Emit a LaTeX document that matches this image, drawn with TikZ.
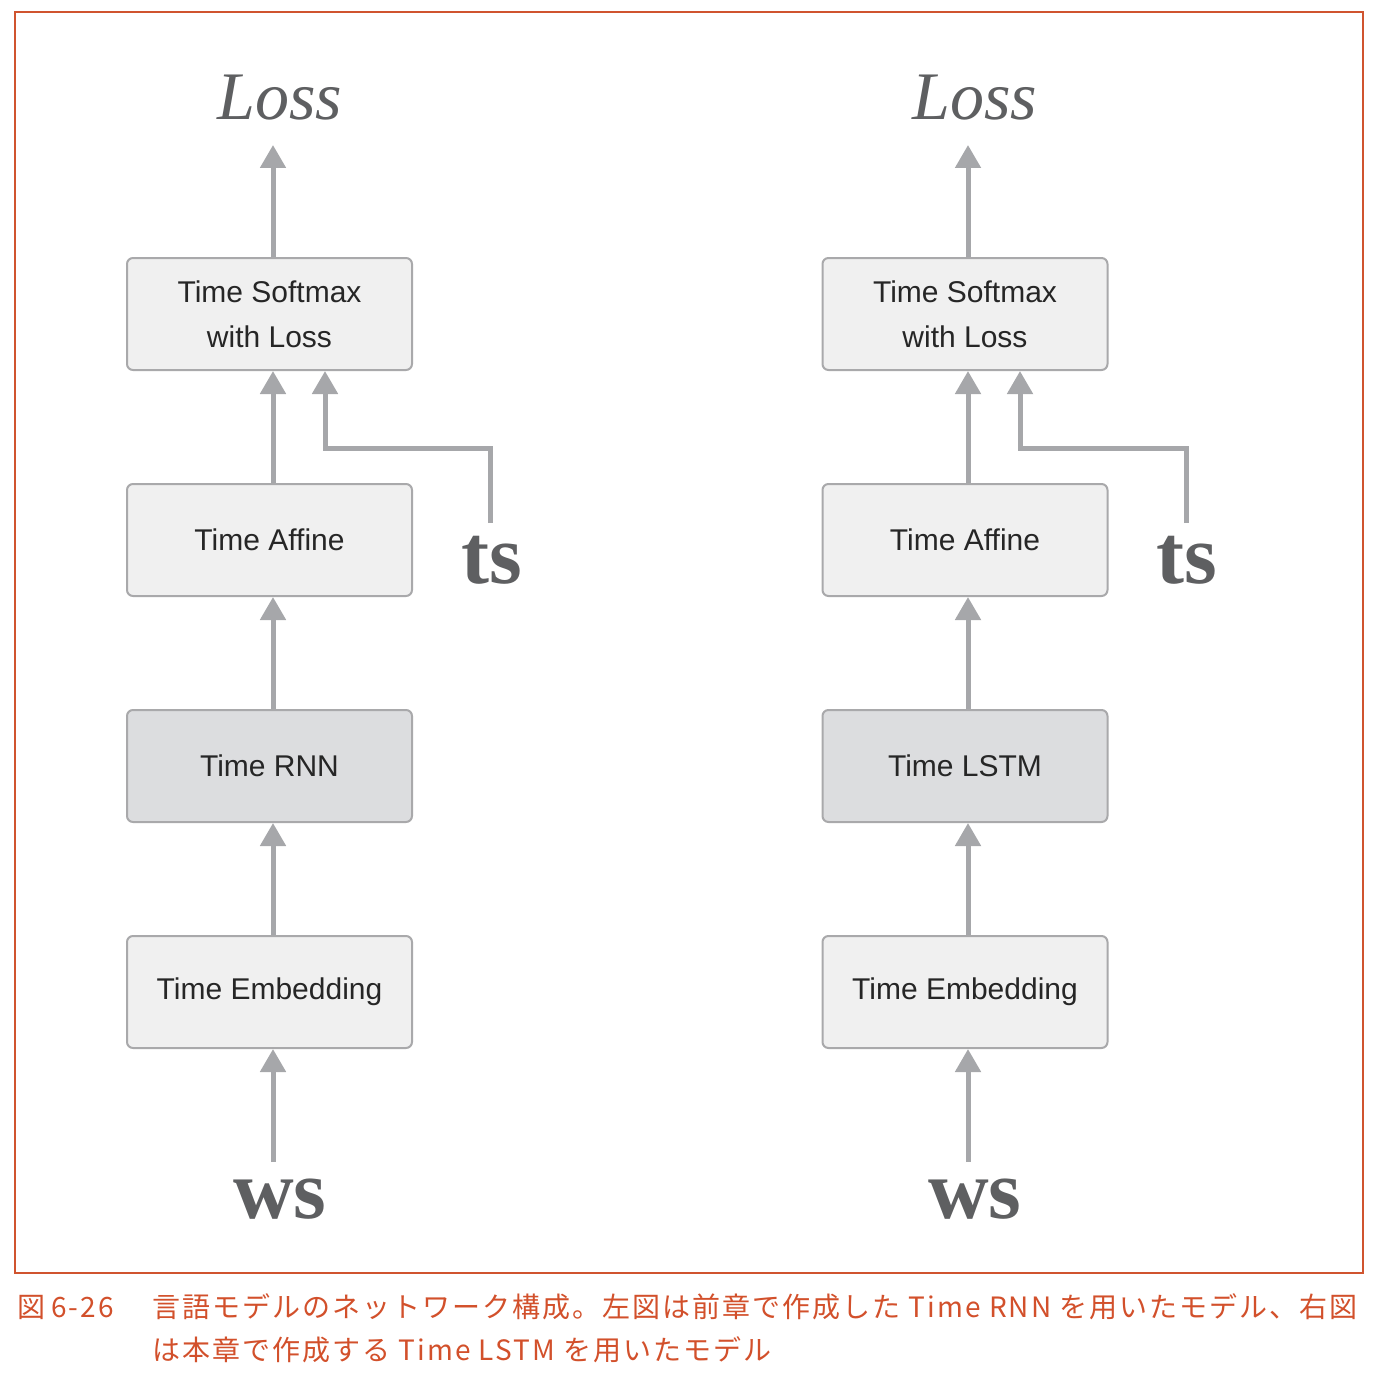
\documentclass[tikz,border=0pt]{standalone}
\usepackage{fontspec}
\setmainfont{Liberation Serif}
\setsansfont{Liberation Sans}
\newfontfamily\cjk[LetterSpace=7.2]{Noto Sans CJK JP}
\usetikzlibrary{arrows.meta}
\definecolor{boxfill}{HTML}{F0F0F0}
\definecolor{boxdark}{HTML}{DCDDDF}
\definecolor{boxline}{HTML}{A9A9AB}
\definecolor{arrc}{HTML}{A6A7AA}
\definecolor{labc}{HTML}{5E5F61}
\definecolor{framec}{HTML}{D0542F}
\definecolor{capc}{HTML}{D2502B}
\tikzset{
  layer/.style={draw=boxline, line width=2pt, fill=boxfill, rounded corners=6pt,
    minimum width=285pt, minimum height=112pt, inner sep=0pt, align=center,
    font=\sffamily\fontsize{30}{45}\selectfont, text=black!85},
  layerdark/.style={layer, fill=boxdark},
  arr/.style={draw=arrc, line width=5pt, -{Triangle[width=25pt,length=23pt]}},
  losslab/.style={anchor=base, text=labc, font=\itshape\fontsize{68}{68}\selectfont, inner sep=0pt},
  varlab/.style={anchor=base, text=labc, font=\bfseries\fontsize{84}{84}\selectfont, inner sep=0pt},
  captxt/.style={anchor=base west, text=capc, inner sep=0pt, font=\cjk\fontsize{28}{28}\selectfont}
}
\begin{document}
\begin{tikzpicture}[x=1pt,y=-1pt]
\useasboundingbox (0,0) rectangle (1380,1380);
\draw[framec, line width=1.2pt] (15,12) rectangle (1363,1273);
% left column
\node[layer] (sm1) at (269.5,314) {Time Softmax\\with Loss};
\node[layer] (af1) at (269.5,540) {Time Affine};
\node[layerdark] (rn1) at (269.5,766) {Time RNN};
\node[layer] (em1) at (269.5,992) {Time Embedding};
\node[losslab] (loss1) at (280,120) {Loss};
\node[varlab] (ts1) at (492,583) {ts};
\node[varlab] (ws1) at (280,1218) {ws};
\coordinate (lt1) at (273,145);
\coordinate (tsc1) at (490,523);
\coordinate (wsc1) at (273,1162);
\draw[arr] ([xshift=3.5pt]sm1.north) -- (lt1);
\draw[arr] ([xshift=3.5pt]af1.north) -- ([xshift=3.5pt]sm1.south);
\draw[arr] (tsc1) -- (490,448) -- (325,448) -- ([xshift=55.5pt]sm1.south);
\draw[arr] ([xshift=3.5pt]rn1.north) -- ([xshift=3.5pt]af1.south);
\draw[arr] ([xshift=3.5pt]em1.north) -- ([xshift=3.5pt]rn1.south);
\draw[arr] (wsc1) -- ([xshift=3.5pt]em1.south);
% right column
\node[layer] (sm2) at (965,314) {Time Softmax\\with Loss};
\node[layer] (af2) at (965,540) {Time Affine};
\node[layerdark] (rn2) at (965,766) {Time LSTM};
\node[layer] (em2) at (965,992) {Time Embedding};
\node[losslab] (loss2) at (975,120) {Loss};
\node[varlab] (ts2) at (1187,583) {ts};
\node[varlab] (ws2) at (975,1218) {ws};
\coordinate (lt2) at (968,145);
\coordinate (tsc2) at (1186,523);
\coordinate (wsc2) at (968,1162);
\draw[arr] ([xshift=3pt]sm2.north) -- (lt2);
\draw[arr] ([xshift=3pt]af2.north) -- ([xshift=3pt]sm2.south);
\draw[arr] (tsc2) -- (1186,448) -- (1020,448) -- ([xshift=55pt]sm2.south);
\draw[arr] ([xshift=3pt]rn2.north) -- ([xshift=3pt]af2.south);
\draw[arr] ([xshift=3pt]em2.north) -- ([xshift=3pt]rn2.south);
\draw[arr] (wsc2) -- ([xshift=3pt]em2.south);
% caption
\node[captxt] (capnum) at (17,1317) {図\hspace{6pt}6-26};
\node[captxt] (cap1) at (152,1317) {言語モデルのネットワーク構成。左図は前章で作成した Time RNN を用いたモデル、右図};
\node[captxt] (cap2) at (152,1360) {は本章で作成する Time LSTM を用いたモデル};
\end{tikzpicture}
\end{document}
